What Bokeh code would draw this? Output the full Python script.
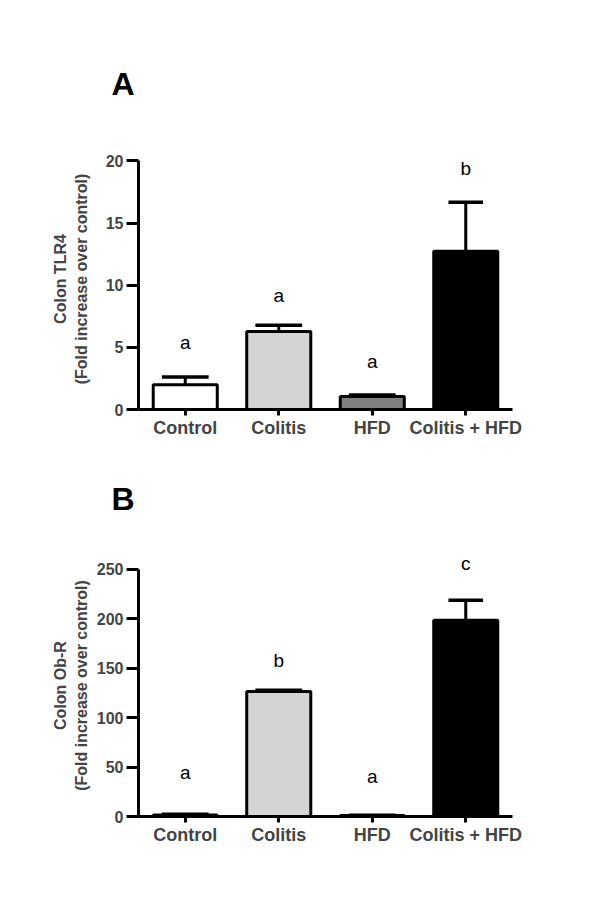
from bokeh.plotting import figure
from bokeh.layouts import column
from bokeh.models import FixedTicker, Range1d
from bokeh.core.properties import value
from bokeh.embed import file_html
from bokeh.resources import INLINE

# ---- data ----
categories = ["Control", "Colitis", "HFD", "Colitis + HFD"]
bar_colors = ["#ffffff", "#d4d4d4", "#808080", "#000000"]

tlr4_mean = [2.0, 6.27, 1.05, 12.74]
tlr4_sem = [0.62, 0.50, 0.12, 3.94]
tlr4_letters = ["a", "a", "a", "b"]
tlr4_letter_y = [5.36, 9.2, 3.9, 19.4]
tlr4_ticks = [0, 5, 10, 15, 20]

obr_mean = [1.5, 126.5, 1.0, 198.4]
obr_sem = [0.8, 1.3, 0.3, 20.2]
obr_letters = ["a", "b", "a", "c"]
obr_letter_y = [45, 158, 40, 256]
obr_ticks = [0, 50, 100, 150, 200, 250]

FONT_NAME = "Liberation Sans"
FONT = value(FONT_NAME)
CAP_W = [0.5, 0.5, 0.5, 0.37]
BAR_W = 0.685


def panel(tag, ylabel, means, sems, letters, letter_y, ticks, yend,
          top_border, bottom_border, frame_h, label_standoff, title_standoff):
    xs = [i + 0.5 for i in range(len(categories))]
    p = figure(frame_width=374, frame_height=frame_h,
               min_border_left=138, min_border_right=72,
               min_border_top=top_border, min_border_bottom=bottom_border,
               x_range=Range1d(0, len(categories)),
               y_range=Range1d(0, yend),
               output_backend="svg", toolbar_location=None, title=tag)
    p.title.text_font = FONT_NAME
    p.title.text_font_size = "32px"
    p.title.text_font_style = "bold"
    p.title.text_color = "black"
    p.title.align = "left"
    p.title.offset = -27
    p.title.standoff = title_standoff
    p.outline_line_color = None
    p.xgrid.visible = False
    p.ygrid.visible = False
    p.background_fill_color = "white"
    p.border_fill_color = "white"

    p.vbar(x=xs, top=means, bottom=0, width=BAR_W, fill_color=bar_colors,
           line_color="black", line_width=3)
    tops = [m + s for m, s in zip(means, sems)]
    p.segment(x0=xs, y0=means, x1=xs, y1=tops, line_color="black",
              line_width=3)
    p.segment(x0=[x - w / 2 for x, w in zip(xs, CAP_W)], y0=tops,
              x1=[x + w / 2 for x, w in zip(xs, CAP_W)], y1=tops,
              line_color="black", line_width=3.5)
    p.text(x=xs, y=letter_y, text=letters, text_align="center",
           text_baseline="middle", text_font=FONT, text_font_size="19px",
           text_color="black")

    ya = p.yaxis[0]
    ya.ticker = FixedTicker(ticks=ticks)
    ya.bounds = (ticks[0], ticks[-1])
    ya.axis_line_width = 3
    ya.major_tick_line_width = 3
    ya.major_tick_out = 12
    ya.major_tick_in = 0
    ya.minor_tick_out = 0
    ya.minor_tick_in = 0
    ya.major_label_standoff = 3
    ya.major_label_text_font = FONT_NAME
    ya.major_label_text_font_size = "16px"
    ya.major_label_text_font_style = "bold"
    ya.axis_label = ylabel
    ya.axis_label_text_font = FONT_NAME
    ya.axis_label_text_font_size = "16px"
    ya.axis_label_text_font_style = "bold"
    ya.axis_label_standoff = label_standoff

    xa = p.xaxis[0]
    xa.ticker = FixedTicker(ticks=xs)
    xa.major_label_overrides = {x: c for x, c in zip(xs, categories)}
    xa.axis_line_width = 3
    xa.major_tick_line_width = 3
    xa.major_tick_out = 6
    xa.major_tick_in = 0
    xa.minor_tick_out = 0
    xa.minor_tick_in = 0
    xa.major_label_standoff = 2
    xa.major_label_text_font = FONT_NAME
    xa.major_label_text_font_size = "18px"
    xa.major_label_text_font_style = "bold"
    return p


pA = panel("A", "Colon TLR4\n(Fold increase over control)", tlr4_mean,
           tlr4_sem, tlr4_letters, tlr4_letter_y, tlr4_ticks, 21,
           148, 31, 261, 13, 93)
pB = panel("B", "Colon Ob-R\n(Fold increase over control)", obr_mean,
           obr_sem, obr_letters, obr_letter_y, obr_ticks, 265,
           114, 97, 262, 4, 76)

layout = column(pA, pB)
open("out.html", "w").write(file_html(layout, INLINE))
